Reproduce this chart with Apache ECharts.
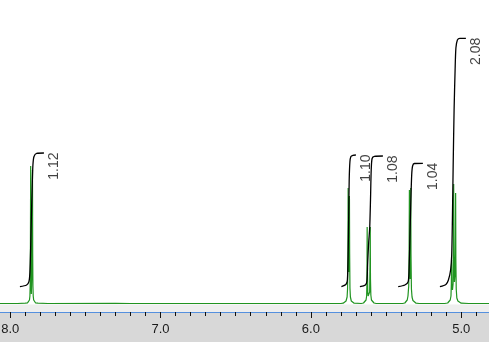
<!DOCTYPE html>
<html><head><meta charset="utf-8">
<script src="https://cdn.jsdelivr.net/npm/echarts@6/dist/echarts.min.js"></script>
<style>html,body{margin:0;padding:0;background:#d8d8d8}#c{width:489px;height:342px}</style>
</head><body><div id="c"></div>
<script>
// x range (ppm), axis reversed as in NMR
const ppmLeft = 8.068, ppmRight = 4.815;
const majorTicks = [8.0, 7.0, 6.0, 5.0];
const minorTicks = [4.9, 5.0, 5.1, 5.2, 5.3, 5.4, 5.5, 5.6, 5.7, 5.8, 5.9, 6.0, 6.1, 6.2, 6.3, 6.4, 6.5, 6.6, 6.7, 6.8, 6.9, 7.0, 7.1, 7.2, 7.3, 7.4, 7.5, 7.6, 7.7, 7.8, 7.9, 8.0];

// spectrum [ppm, intensity]
const spectrum = [
  [8.068, 0.5], [7.95, 0.5], [7.90, 0.8], [7.885, 1.2], [7.877, 2.2], [7.872, 4], [7.869, 8], [7.867, 20], [7.8655, 60], [7.864, 138], [7.8625, 60], [7.861, 20], [7.8595, 10], [7.858, 8], [7.8565, 12], [7.855, 40], [7.8535, 100], [7.852, 134], [7.8505, 50], [7.849, 18], [7.847, 8], [7.844, 4], [7.839, 2.2], [7.832, 1.2], [7.815, 0.8], [7.75, 0.5],
  [7.30, 0.6], [7.20, 0.5], [6.50, 0.5], [6.00, 0.5],
  [5.80, 0.5], [5.785, 0.8], [5.775, 1.5], [5.766, 3], [5.759, 7], [5.756, 15], [5.7535, 50], [5.752, 116], [5.7505, 60], [5.749, 32], [5.7475, 35], [5.745, 80], [5.7435, 108], [5.742, 50], [5.740, 16], [5.737, 7], [5.731, 3], [5.722, 1.5], [5.712, 0.8], [5.70, 0.5],
  [5.665, 0.5], [5.65, 1], [5.640, 2], [5.633, 4], [5.629, 8], [5.627, 20], [5.6255, 77], [5.624, 40], [5.6215, 12], [5.619, 8], [5.616, 7], [5.612, 8], [5.609, 12], [5.6065, 40], [5.605, 77], [5.6035, 25], [5.601, 9], [5.597, 4], [5.590, 2], [5.580, 1], [5.565, 0.5],
  [5.39, 0.5], [5.375, 1], [5.366, 2], [5.359, 4], [5.354, 8], [5.349, 18], [5.3465, 50], [5.3445, 114], [5.343, 50], [5.340, 25], [5.3375, 40], [5.3355, 116], [5.334, 50], [5.331, 15], [5.327, 7], [5.321, 3.5], [5.313, 1.8], [5.30, 0.8], [5.28, 0.5],
  [5.11, 0.5], [5.09, 1], [5.080, 2], [5.073, 4], [5.068, 8], [5.0655, 20], [5.064, 44], [5.0625, 20], [5.058, 14], [5.054, 20], [5.0515, 60], [5.050, 120], [5.0485, 50], [5.045, 22], [5.041, 30], [5.0385, 70], [5.037, 111], [5.0355, 45], [5.033, 15], [5.029, 6], [5.022, 3], [5.012, 1.5], [5.0, 0.8], [4.95, 0.5], [4.815, 0.5]
];

// integral curves [ppm, level]
const integral1 = [[7.9355, 17.3], [7.8909, 19], [7.8756, 22.3], [7.8689, 32], [7.8636, 59], [7.859, 89], [7.8536, 119], [7.849, 139], [7.8423, 147.3], [7.8244, 150.7], [7.7758, 151]];
const integral2 = [[5.7969, 17.3], [5.7669, 19.5], [5.757, 24], [5.7516, 54], [5.7483, 89], [5.745, 124], [5.7403, 142], [5.7337, 147.5], [5.7204, 148.7], [5.7004, 149]];
const integral3 = [[5.6738, 17.3], [5.6372, 19], [5.6272, 23], [5.6219, 42], [5.6152, 62], [5.6086, 76], [5.6033, 104], [5.5986, 134], [5.5926, 145.5], [5.5773, 147.7], [5.5208, 148]];
const integral4 = [[5.4190, 17.3], [5.3745, 19], [5.3525, 22.3], [5.3459, 39], [5.3399, 74], [5.3346, 104], [5.3293, 129], [5.3233, 138], [5.3113, 140.5], [5.2548, 140.7]];
const integral5 = [[5.1416, 17.3], [5.1017, 19.5], [5.0850, 24], [5.0704, 34], [5.0631, 49], [5.0585, 84], [5.0531, 141], [5.0472, 194], [5.0405, 234], [5.0352, 256], [5.0252, 264], [5.0086, 265.7], [4.9687, 265.7]];
const integrals = [integral1, integral2, integral3, integral4, integral5];
const integralLabels = ['1.12', '1.10', '1.08', '1.04', '2.08'];

const chart = echarts.init(document.getElementById('c'));
const series = [{
  type: 'line', xAxisIndex: 0, data: spectrum, showSymbol: false, symbol: 'none',
  lineStyle: { color: '#219421', width: 1.2 }, z: 3,
  markArea: { silent: true, itemStyle: { color: '#eeeeee' }, data: [[{ yAxis: -8 }, { yAxis: -0.5 }]] }
}];
integrals.forEach(d => series.push({
  type: 'line', xAxisIndex: 0, data: d, showSymbol: false, symbol: 'none', smooth: 0.25,
  lineStyle: { color: '#000', width: 1.3 }, z: 4
}));
series.push({
  type: 'scatter', xAxisIndex: 0, symbolSize: 1, itemStyle: { color: 'rgba(0,0,0,0)' },
  data: integrals.map((d, i) => ({ value: d[d.length - 1], name: integralLabels[i] })),
  label: { show: true, formatter: p => p.name, position: [11, 0], rotate: 90, align: 'right', verticalAlign: 'middle',
    fontFamily: 'Liberation Sans', fontSize: 14, color: '#111' }, z: 5
});

chart.setOption({
  animation: false,
  grid: { left: 0, right: 0, top: 0, bottom: 30, containLabel: false, outerBoundsMode: 'none', show: true, backgroundColor: '#fff', borderWidth: 0 },
  xAxis: [{
    type: 'value', inverse: true, min: ppmRight, max: ppmLeft, position: 'bottom',
    axisLine: { show: true, onZero: false, lineStyle: { color: '#5590de', width: 1 } },
    axisTick: { show: true, customValues: majorTicks, length: 6, lineStyle: { color: '#111', width: 1 } },
    axisLabel: { customValues: majorTicks, formatter: v => v.toFixed(1), fontFamily: 'Liberation Sans', fontSize: 13, color: '#1a1a1a', margin: 11 },
    splitLine: { show: false }, z: 6
  }, {
    type: 'value', inverse: true, min: ppmRight, max: ppmLeft, position: 'bottom',
    axisLine: { show: false, onZero: false },
    axisTick: { show: true, customValues: minorTicks, length: 4, lineStyle: { color: '#111', width: 1 } },
    axisLabel: { show: false }, splitLine: { show: false }, z: 6
  }],
  yAxis: { type: 'value', min: -8, max: 304, show: false, splitLine: { show: false } },
  series
});
</script></body></html>
